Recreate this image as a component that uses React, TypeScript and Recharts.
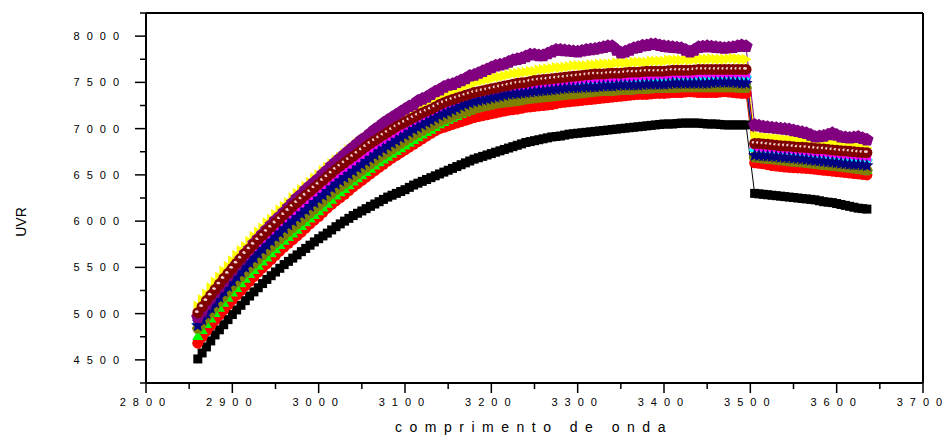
import React from 'react';
import { ComposedChart, Line, XAxis, YAxis, ReferenceLine, Label } from 'recharts';

// comprimento de onda (x)
const comprimento = [
  2860, 2865, 2870, 2875, 2880, 2885, 2890, 2895, 2900, 2905, 2910, 2915, 2920, 2925, 2930, 2935,
  2940, 2945, 2950, 2955, 2960, 2965, 2970, 2975, 2980, 2985, 2990, 2995, 3000, 3005, 3010, 3015,
  3020, 3025, 3030, 3035, 3040, 3045, 3050, 3055, 3060, 3065, 3070, 3075, 3080, 3085, 3090, 3095,
  3100, 3105, 3110, 3115, 3120, 3125, 3130, 3135, 3140, 3145, 3150, 3155, 3160, 3165, 3170, 3175,
  3180, 3185, 3190, 3195, 3200, 3205, 3210, 3215, 3220, 3225, 3230, 3235, 3240, 3245, 3250, 3255,
  3260, 3265, 3270, 3275, 3280, 3285, 3290, 3295, 3300, 3305, 3310, 3315, 3320, 3325, 3330, 3335,
  3340, 3345, 3350, 3355, 3360, 3365, 3370, 3375, 3380, 3385, 3390, 3395, 3400, 3405, 3410, 3415,
  3420, 3425, 3430, 3435, 3440, 3445, 3450, 3455, 3460, 3465, 3470, 3475, 3480, 3485, 3490, 3495,
  3505, 3510, 3515, 3520, 3525, 3530, 3535, 3540, 3545, 3550, 3555, 3560, 3565, 3570,
  3575, 3580, 3585, 3590, 3595, 3600, 3605, 3610, 3615, 3620, 3625, 3630, 3635,
];

const serieBlack = [
  4510, 4575, 4640, 4705, 4770, 4825, 4880, 4935, 4990, 5040, 5090, 5140, 5190, 5235, 5280, 5325,
  5370, 5410, 5450, 5490, 5530, 5565, 5600, 5635, 5670, 5705, 5740, 5775, 5810, 5840, 5870, 5905,
  5940, 5970, 6000, 6030, 6060, 6085, 6110, 6135, 6160, 6185, 6210, 6235, 6260, 6280, 6300, 6320,
  6340, 6365, 6390, 6410, 6430, 6450, 6470, 6490, 6510, 6530, 6550, 6570, 6590, 6610, 6630, 6650,
  6670, 6685, 6700, 6715, 6730, 6745, 6760, 6775, 6790, 6805, 6820, 6835, 6850, 6860, 6870, 6880,
  6890, 6900, 6910, 6915, 6920, 6930, 6940, 6945, 6950, 6955, 6960, 6965, 6970, 6975, 6980, 6985,
  6990, 6995, 7000, 7005, 7010, 7015, 7020, 7025, 7030, 7035, 7040, 7045, 7050, 7050, 7050, 7055,
  7060, 7060, 7060, 7060, 7060, 7055, 7050, 7050, 7050, 7045, 7040, 7040, 7040, 7040, 7040, 7040,
  6300, 6295, 6290, 6285, 6280, 6275, 6270, 6265, 6260, 6255, 6250, 6245, 6240, 6235,
  6230, 6220, 6210, 6205, 6200, 6190, 6180, 6170, 6160, 6150, 6140, 6135, 6130,
];

const serieRed = [
  4680, 4745, 4810, 4870, 4930, 4985, 5040, 5095, 5150, 5200, 5250, 5300, 5350, 5400, 5450, 5495,
  5540, 5585, 5630, 5675, 5720, 5760, 5800, 5840, 5880, 5925, 5970, 6010, 6050, 6095, 6140, 6180,
  6220, 6255, 6290, 6330, 6370, 6405, 6440, 6475, 6510, 6545, 6580, 6615, 6650, 6680, 6710, 6740,
  6770, 6800, 6830, 6860, 6890, 6920, 6950, 6975, 7000, 7015, 7030, 7045, 7060, 7075, 7090, 7105,
  7120, 7130, 7140, 7150, 7160, 7170, 7180, 7190, 7200, 7205, 7210, 7220, 7230, 7235, 7240, 7245,
  7250, 7255, 7260, 7270, 7280, 7285, 7290, 7295, 7300, 7305, 7310, 7315, 7320, 7325, 7330, 7335,
  7340, 7345, 7350, 7355, 7360, 7365, 7370, 7370, 7370, 7375, 7380, 7380, 7380, 7385, 7390, 7390,
  7390, 7395, 7400, 7395, 7390, 7390, 7390, 7390, 7390, 7395, 7400, 7395, 7390, 7385, 7380, 7380,
  6630, 6625, 6620, 6610, 6600, 6595, 6590, 6585, 6580, 6578, 6575, 6572, 6570, 6565,
  6560, 6555, 6550, 6545, 6540, 6535, 6530, 6525, 6520, 6515, 6510, 6505, 6500,
];

const serieGreen = [
  4760, 4825, 4890, 4950, 5010, 5065, 5120, 5175, 5230, 5280, 5330, 5380, 5430, 5475, 5520, 5565,
  5610, 5655, 5700, 5745, 5790, 5830, 5870, 5910, 5950, 5990, 6030, 6070, 6110, 6150, 6190, 6235,
  6280, 6315, 6350, 6390, 6430, 6465, 6500, 6535, 6570, 6605, 6640, 6670, 6700, 6730, 6760, 6790,
  6820, 6850, 6880, 6910, 6940, 6965, 6990, 7020, 7050, 7075, 7100, 7120, 7140, 7160, 7180, 7200,
  7220, 7235, 7250, 7260, 7270, 7280, 7290, 7300, 7310, 7320, 7330, 7340, 7350, 7360, 7370, 7375,
  7380, 7390, 7400, 7405, 7410, 7415, 7420, 7425, 7430, 7435, 7440, 7445, 7450, 7455, 7460, 7465,
  7470, 7470, 7470, 7475, 7480, 7480, 7480, 7485, 7490, 7490, 7490, 7490, 7490, 7495, 7500, 7500,
  7500, 7500, 7500, 7500, 7500, 7500, 7500, 7500, 7500, 7500, 7500, 7500, 7500, 7500, 7500, 7500,
  6710, 6705, 6700, 6695, 6690, 6685, 6680, 6670, 6660, 6655, 6650, 6645, 6640, 6630,
  6620, 6615, 6610, 6605, 6600, 6595, 6590, 6585, 6580, 6575, 6570, 6562, 6555,
];

const serieBlue = [
  4885, 4950, 5015, 5080, 5140, 5200, 5255, 5310, 5365, 5420, 5470, 5520, 5570, 5620, 5665, 5710,
  5755, 5800, 5845, 5890, 5935, 5975, 6015, 6060, 6100, 6140, 6180, 6220, 6260, 6300, 6340, 6380,
  6420, 6455, 6490, 6525, 6560, 6595, 6630, 6665, 6700, 6735, 6770, 6800, 6830, 6860, 6890, 6920,
  6950, 6980, 7010, 7035, 7060, 7085, 7110, 7135, 7160, 7180, 7200, 7220, 7240, 7260, 7280, 7295,
  7310, 7320, 7330, 7340, 7350, 7360, 7370, 7380, 7390, 7395, 7400, 7405, 7410, 7415, 7420, 7425,
  7430, 7435, 7440, 7445, 7450, 7455, 7460, 7460, 7460, 7465, 7470, 7470, 7470, 7475, 7480, 7480,
  7480, 7485, 7490, 7490, 7490, 7490, 7490, 7495, 7500, 7500, 7500, 7500, 7500, 7505, 7510, 7510,
  7510, 7510, 7510, 7510, 7510, 7510, 7510, 7515, 7520, 7520, 7520, 7520, 7520, 7515, 7510, 7510,
  6730, 6728, 6725, 6722, 6720, 6715, 6710, 6708, 6705, 6700, 6695, 6690, 6685, 6680,
  6675, 6670, 6665, 6660, 6655, 6650, 6645, 6640, 6635, 6632, 6630, 6625, 6620,
];

const serieCyan = [
  4890, 4950, 5010, 5070, 5130, 5185, 5240, 5290, 5340, 5390, 5440, 5490, 5540, 5585, 5630, 5675,
  5720, 5765, 5810, 5855, 5900, 5940, 5980, 6020, 6060, 6100, 6140, 6180, 6220, 6260, 6300, 6340,
  6380, 6420, 6460, 6500, 6540, 6575, 6610, 6645, 6680, 6715, 6750, 6785, 6820, 6850, 6880, 6910,
  6940, 6970, 7000, 7025, 7050, 7075, 7100, 7125, 7150, 7175, 7200, 7220, 7240, 7260, 7280, 7300,
  7320, 7335, 7350, 7365, 7380, 7390, 7400, 7410, 7420, 7425, 7430, 7435, 7440, 7445, 7450, 7455,
  7460, 7465, 7470, 7475, 7480, 7485, 7490, 7495, 7500, 7500, 7500, 7505, 7510, 7510, 7510, 7515,
  7520, 7520, 7520, 7525, 7530, 7530, 7530, 7535, 7540, 7540, 7540, 7545, 7550, 7550, 7550, 7550,
  7550, 7555, 7560, 7560, 7560, 7560, 7560, 7560, 7560, 7560, 7560, 7560, 7560, 7560, 7560, 7560,
  6770, 6765, 6760, 6755, 6750, 6745, 6740, 6735, 6730, 6725, 6720, 6718, 6715, 6710,
  6705, 6702, 6700, 6695, 6690, 6685, 6680, 6678, 6675, 6670, 6665, 6662, 6660,
];

const serieMagenta = [
  4940, 5005, 5070, 5130, 5190, 5250, 5310, 5365, 5420, 5475, 5530, 5580, 5630, 5680, 5730, 5775,
  5820, 5865, 5910, 5955, 6000, 6045, 6090, 6130, 6170, 6210, 6250, 6290, 6330, 6370, 6410, 6450,
  6490, 6525, 6560, 6595, 6630, 6665, 6700, 6735, 6770, 6800, 6830, 6860, 6890, 6920, 6950, 6980,
  7010, 7035, 7060, 7085, 7110, 7135, 7160, 7185, 7210, 7230, 7250, 7270, 7290, 7305, 7320, 7335,
  7350, 7365, 7380, 7390, 7400, 7410, 7420, 7430, 7440, 7450, 7460, 7465, 7470, 7475, 7480, 7485,
  7490, 7495, 7500, 7505, 7510, 7515, 7520, 7525, 7530, 7535, 7540, 7540, 7540, 7545, 7550, 7550,
  7550, 7555, 7560, 7560, 7560, 7565, 7570, 7570, 7570, 7575, 7580, 7580, 7580, 7585, 7590, 7590,
  7590, 7590, 7590, 7595, 7600, 7600, 7600, 7600, 7600, 7600, 7600, 7600, 7600, 7600, 7600, 7600,
  6800, 6798, 6795, 6792, 6790, 6785, 6780, 6778, 6775, 6770, 6765, 6760, 6755, 6750,
  6745, 6742, 6740, 6735, 6730, 6725, 6720, 6718, 6715, 6710, 6705, 6702, 6700,
];

const serieYellow = [
  5080, 5150, 5210, 5280, 5340, 5395, 5460, 5510, 5570, 5630, 5680, 5725, 5780, 5835, 5880, 5925,
  5980, 6020, 6070, 6120, 6160, 6200, 6250, 6300, 6340, 6375, 6420, 6465, 6500, 6545, 6580, 6620,
  6660, 6690, 6730, 6770, 6800, 6840, 6870, 6900, 6930, 6965, 6990, 7025, 7050, 7085, 7110, 7130,
  7160, 7190, 7210, 7240, 7260, 7290, 7310, 7330, 7350, 7375, 7390, 7410, 7430, 7445, 7460, 7480,
  7490, 7510, 7520, 7530, 7540, 7555, 7560, 7570, 7580, 7595, 7600, 7605, 7610, 7620, 7620, 7635,
  7640, 7645, 7650, 7660, 7660, 7665, 7670, 7680, 7680, 7680, 7680, 7690, 7690, 7695, 7700, 7700,
  7700, 7710, 7710, 7710, 7710, 7720, 7720, 7720, 7720, 7730, 7730, 7730, 7730, 7740, 7740, 7740,
  7740, 7745, 7740, 7750, 7750, 7750, 7750, 7755, 7750, 7750, 7750, 7755, 7760, 7755, 7750, 7750,
  6920, 6915, 6910, 6905, 6900, 6895, 6890, 6885, 6880, 6880, 6880, 6875, 6870, 6865,
  6860, 6855, 6850, 6845, 6840, 6835, 6830, 6822, 6815, 6808, 6800, 6795, 6790,
];

const serieOlive = [
  4840, 4900, 4960, 5020, 5080, 5135, 5190, 5245, 5300, 5350, 5400, 5450, 5500, 5545, 5590, 5635,
  5680, 5725, 5770, 5810, 5850, 5890, 5930, 5970, 6010, 6050, 6090, 6130, 6170, 6215, 6260, 6300,
  6340, 6375, 6410, 6445, 6480, 6515, 6550, 6585, 6620, 6655, 6690, 6720, 6750, 6780, 6810, 6840,
  6870, 6900, 6930, 6955, 6980, 7005, 7030, 7055, 7080, 7100, 7120, 7140, 7160, 7175, 7190, 7205,
  7220, 7230, 7240, 7250, 7260, 7270, 7280, 7285, 7290, 7295, 7300, 7310, 7320, 7325, 7330, 7335,
  7340, 7345, 7350, 7355, 7360, 7365, 7370, 7375, 7380, 7385, 7390, 7395, 7400, 7405, 7410, 7410,
  7410, 7415, 7420, 7420, 7420, 7425, 7430, 7430, 7430, 7435, 7440, 7440, 7440, 7440, 7440, 7445,
  7450, 7450, 7450, 7450, 7450, 7450, 7450, 7450, 7450, 7450, 7450, 7450, 7450, 7445, 7440, 7440,
  6690, 6685, 6680, 6675, 6670, 6665, 6660, 6655, 6650, 6645, 6640, 6635, 6630, 6625,
  6620, 6615, 6610, 6605, 6600, 6595, 6590, 6585, 6580, 6572, 6565, 6558, 6550,
];

const serieNavy = [
  4870, 4935, 5000, 5060, 5120, 5180, 5240, 5295, 5350, 5400, 5450, 5500, 5550, 5600, 5650, 5695,
  5740, 5785, 5830, 5875, 5920, 5960, 6000, 6040, 6080, 6120, 6160, 6200, 6240, 6280, 6320, 6360,
  6400, 6435, 6470, 6505, 6540, 6575, 6610, 6645, 6680, 6715, 6750, 6780, 6810, 6840, 6870, 6900,
  6930, 6960, 6990, 7015, 7040, 7065, 7090, 7115, 7140, 7160, 7180, 7200, 7220, 7240, 7260, 7275,
  7290, 7300, 7310, 7320, 7330, 7340, 7350, 7360, 7370, 7375, 7380, 7385, 7390, 7395, 7400, 7405,
  7410, 7415, 7420, 7425, 7430, 7435, 7440, 7440, 7440, 7445, 7450, 7450, 7450, 7455, 7460, 7460,
  7460, 7465, 7470, 7470, 7470, 7470, 7470, 7475, 7480, 7480, 7480, 7480, 7480, 7485, 7490, 7490,
  7490, 7490, 7490, 7490, 7490, 7490, 7490, 7495, 7500, 7500, 7500, 7500, 7500, 7495, 7490, 7490,
  6710, 6708, 6705, 6702, 6700, 6695, 6690, 6688, 6685, 6680, 6675, 6670, 6665, 6660,
  6655, 6650, 6645, 6640, 6635, 6630, 6625, 6620, 6615, 6612, 6610, 6605, 6600,
];

const seriePurple = [
  4960, 5030, 5100, 5170, 5230, 5290, 5350, 5410, 5470, 5530, 5590, 5650, 5700, 5760, 5810, 5860,
  5910, 5960, 6010, 6050, 6100, 6150, 6200, 6250, 6290, 6340, 6380, 6420, 6460, 6510, 6550, 6600,
  6640, 6680, 6720, 6760, 6800, 6840, 6880, 6910, 6950, 6990, 7020, 7060, 7090, 7120, 7150, 7180,
  7210, 7240, 7260, 7300, 7320, 7340, 7370, 7400, 7420, 7450, 7470, 7480, 7500, 7520, 7540, 7570,
  7580, 7600, 7620, 7640, 7660, 7680, 7690, 7700, 7720, 7740, 7750, 7760, 7780, 7800, 7800, 7790,
  7790, 7810, 7830, 7850, 7850, 7845, 7840, 7835, 7830, 7840, 7850, 7855, 7860, 7870, 7880, 7890,
  7890, 7850, 7820, 7830, 7850, 7870, 7880, 7895, 7900, 7910, 7910, 7900, 7890, 7885, 7880, 7875,
  7870, 7850, 7830, 7850, 7880, 7885, 7890, 7885, 7880, 7875, 7870, 7875, 7880, 7890, 7900, 7890,
  7040, 7030, 7020, 7015, 7010, 7005, 7000, 6995, 6990, 6980, 6970, 6960, 6950, 6930,
  6910, 6915, 6920, 6935, 6950, 6930, 6910, 6905, 6900, 6905, 6910, 6895, 6880,
];

const serieWine = [
  5010, 5075, 5140, 5200, 5260, 5320, 5380, 5435, 5490, 5545, 5600, 5650, 5700, 5750, 5800, 5845,
  5890, 5935, 5980, 6025, 6070, 6115, 6160, 6200, 6240, 6280, 6320, 6360, 6400, 6440, 6480, 6520,
  6560, 6595, 6630, 6665, 6700, 6735, 6770, 6805, 6840, 6870, 6900, 6930, 6960, 6990, 7020, 7045,
  7070, 7095, 7120, 7145, 7170, 7190, 7210, 7235, 7260, 7280, 7300, 7315, 7330, 7345, 7360, 7375,
  7390, 7400, 7410, 7420, 7430, 7440, 7450, 7460, 7470, 7480, 7490, 7495, 7500, 7510, 7520, 7525,
  7530, 7535, 7540, 7545, 7550, 7555, 7560, 7565, 7570, 7575, 7580, 7585, 7590, 7590, 7590, 7595,
  7600, 7600, 7600, 7605, 7610, 7610, 7610, 7615, 7620, 7620, 7620, 7620, 7620, 7625, 7630, 7630,
  7630, 7630, 7630, 7635, 7640, 7640, 7640, 7640, 7640, 7640, 7640, 7640, 7640, 7640, 7640, 7640,
  6840, 6838, 6835, 6830, 6825, 6820, 6815, 6812, 6810, 6805, 6800, 6798, 6795, 6790,
  6785, 6782, 6780, 6775, 6770, 6765, 6760, 6758, 6755, 6750, 6745, 6742, 6740,
];

const xTicks = [
  2800, 2850, 2900, 2950, 3000, 3050, 3100, 3150, 3200, 3250,
  3300, 3350, 3400, 3450, 3500, 3550, 3600, 3650, 3700,
];
const yTicks = [
  4250, 4500, 4750, 5000, 5250, 5500, 5750, 6000, 6250, 6500,
  6750, 7000, 7250, 7500, 7750, 8000, 8250,
];

const data = comprimento.map((w, i) => ({
  w,
  black: serieBlack[i],
  red: serieRed[i],
  green: serieGreen[i],
  blue: serieBlue[i],
  cyan: serieCyan[i],
  magenta: serieMagenta[i],
  yellow: serieYellow[i],
  olive: serieOlive[i],
  navy: serieNavy[i],
  purple: seriePurple[i],
  wine: serieWine[i],
}));

const FONT = '"Liberation Sans", Arial, sans-serif';

function poly(cx: number, cy: number, r: number, n: number, rot: number) {
  const pts: string[] = [];
  for (let k = 0; k < n; k++) {
    const a = rot + (k * 2 * Math.PI) / n;
    pts.push(`${cx + r * Math.cos(a)},${cy + r * Math.sin(a)}`);
  }
  return pts.join(' ');
}

function star(cx: number, cy: number, r: number) {
  const pts: string[] = [];
  for (let k = 0; k < 10; k++) {
    const a = -Math.PI / 2 + (k * Math.PI) / 5;
    const rr = k % 2 === 0 ? r : r * 0.45;
    pts.push(`${cx + rr * Math.cos(a)},${cy + rr * Math.sin(a)}`);
  }
  return pts.join(' ');
}

type Shape = 'square' | 'circle' | 'up' | 'down' | 'diamond' | 'left' | 'right' | 'hexagon' | 'star' | 'pentagon' | 'sphere';

const makeDot = (shape: Shape, color: string) => (p: any) => {
  const { cx, cy, index } = p;
  const key = `${shape}-${index}`;
  if (cx == null || cy == null) return <g key={key} />;
  switch (shape) {
    case 'square':
      return <rect key={key} x={cx - 4.5} y={cy - 4.5} width={9} height={9} fill={color} />;
    case 'circle':
      return <circle key={key} cx={cx} cy={cy} r={5.5} fill={color} />;
    case 'up':
      return <polygon key={key} points={poly(cx, cy + 1, 6.5, 3, -Math.PI / 2)} fill={color} />;
    case 'down':
      return <polygon key={key} points={poly(cx, cy - 1, 6.5, 3, Math.PI / 2)} fill={color} />;
    case 'diamond':
      return <polygon key={key} points={poly(cx, cy, 6, 4, 0)} fill={color} />;
    case 'left':
      return <polygon key={key} points={poly(cx + 1, cy, 6.5, 3, Math.PI)} fill={color} />;
    case 'right':
      return <polygon key={key} points={poly(cx - 1, cy, 6.5, 3, 0)} fill={color} />;
    case 'hexagon':
      return <polygon key={key} points={poly(cx, cy, 6, 6, 0)} fill={color} />;
    case 'star':
      return <polygon key={key} points={star(cx, cy, 7)} fill={color} />;
    case 'pentagon':
      return <polygon key={key} points={poly(cx, cy, 7, 5, -Math.PI / 2)} fill={color} />;
    case 'sphere':
    default:
      return (
        <g key={key}>
          <circle cx={cx} cy={cy} r={5.5} fill={color} />
          <ellipse cx={cx - 1} cy={cy - 1} rx={2} ry={1.4} fill="#f0d0d0" />
        </g>
      );
  }
};

const series: { key: string; color: string; shape: Shape }[] = [
  { key: 'black', color: '#000000', shape: 'square' },
  { key: 'red', color: '#ff0000', shape: 'circle' },
  { key: 'green', color: '#00ff00', shape: 'up' },
  { key: 'blue', color: '#0000ff', shape: 'down' },
  { key: 'cyan', color: '#00ffff', shape: 'diamond' },
  { key: 'magenta', color: '#ff00ff', shape: 'left' },
  { key: 'yellow', color: '#ffff00', shape: 'right' },
  { key: 'olive', color: '#808000', shape: 'hexagon' },
  { key: 'navy', color: '#000080', shape: 'star' },
  { key: 'purple', color: '#800080', shape: 'pentagon' },
  { key: 'wine', color: '#800000', shape: 'sphere' },
];

// spaced digits, without trailing spacing after the last digit
const Spaced = ({ x, y, anchor, value }: { x: number; y: number; anchor: 'middle' | 'end'; value: number }) => {
  const s = String(value);
  return (
    <text x={x} y={y} textAnchor={anchor} fontSize={11} fontFamily={FONT} fill="#000">
      <tspan letterSpacing={7}>{s.slice(0, -1)}</tspan>
      <tspan>{s.slice(-1)}</tspan>
    </text>
  );
};

const XTick = ({ x, y, payload }: any) => {
  const major = payload.value % 100 === 0;
  return (
    <g>
      <line x1={x} x2={x} y1={y} y2={y + (major ? 10 : 6)} stroke="#000" strokeWidth={1.5} />
      {major && <Spaced x={x - 3.5} y={y + 23} anchor="middle" value={payload.value} />}
    </g>
  );
};

const YTick = ({ x, y, payload }: any) => {
  const major = payload.value % 500 === 0;
  return (
    <g>
      <line x1={x} x2={x - (major ? 11 : 6)} y1={y} y2={y} stroke="#000" strokeWidth={1.5} />
      {major && <Spaced x={x - 27} y={y + 4} anchor="end" value={payload.value} />}
    </g>
  );
};

const UvrLabel = () => (
  <text x={26} y={222} transform="rotate(-90 26 222)" textAnchor="middle" fontSize={14}
    fontFamily={FONT} fill="#000">
    UVR
  </text>
);

const XTitle = () => (
  <text x={534} y={432} textAnchor="middle" fontSize={14} letterSpacing={7.5}
    fontFamily={FONT} fill="#000">
    comprimento de onda
  </text>
);

export default function App() {
  return (
    <div style={{ position: 'absolute', left: 0, top: 0, width: 947, height: 437, background: '#fff' }}>
      <ComposedChart width={947} height={437} data={data}
        margin={{ top: 13, right: 24, bottom: 0, left: 0 }}>
        <XAxis dataKey="w" type="number" domain={[2800, 3700]} ticks={xTicks}
          allowDataOverflow interval={0} tickSize={0} tickMargin={0} height={54}
          axisLine={{ stroke: '#000', strokeWidth: 2 }} tickLine={false} tick={<XTick />}>
          <Label content={<XTitle />} />
        </XAxis>
        <YAxis type="number" domain={[4250, 8250]} ticks={yTicks} allowDataOverflow interval={0}
          width={146} tickSize={0} tickMargin={0}
          axisLine={{ stroke: '#000', strokeWidth: 2 }} tickLine={false} tick={<YTick />}>
          <Label content={<UvrLabel />} />
        </YAxis>
        <ReferenceLine y={8250} stroke="#000" strokeWidth={2} />
        <ReferenceLine x={3700} stroke="#000" strokeWidth={2} />
        {series.map((s) => (
          <Line key={s.key} dataKey={s.key} stroke={s.color} strokeWidth={1}
            dot={makeDot(s.shape, s.color)} activeDot={false} isAnimationActive={false} />
        ))}
      </ComposedChart>
    </div>
  );
}
